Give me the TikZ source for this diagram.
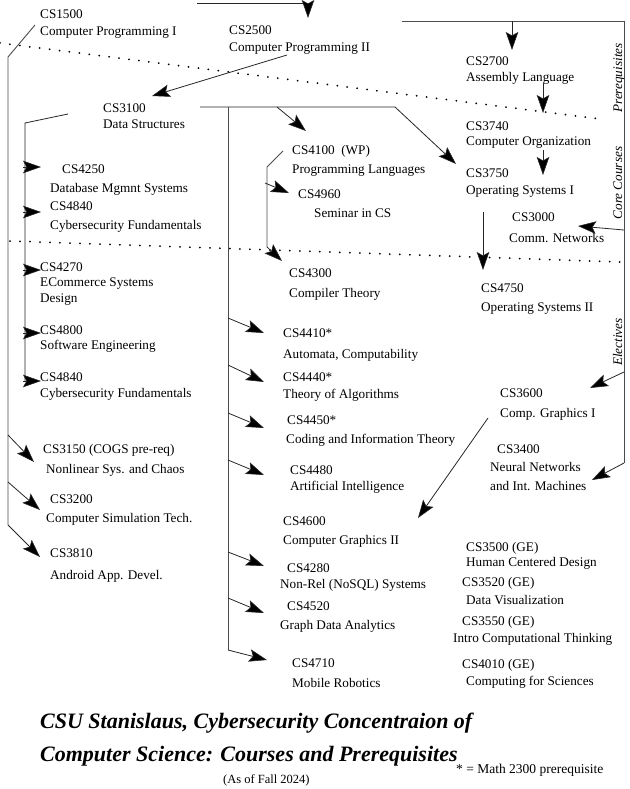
\documentclass[tikz,border=0pt]{standalone}
\usepackage{fontspec}
\setmainfont{Liberation Serif}
\usetikzlibrary{arrows.meta}
\newcommand\cBlock[2]{\vtop{\baselineskip=#1pt\lineskiplimit=-40pt\lineskip=0pt\relax #2}}
\newcommand\cLine[2]{\hbox{\kern#1pt\relax #2}}
\begin{document}
\begin{tikzpicture}[x=1pt,y=-1pt,
  crs/.style={anchor=base west, inner sep=0pt, font=\fontsize{13.2pt}{16pt}\selectfont},
  ln/.style={line width=0.8pt, black!85},
  vln/.style={line width=0.9pt, black!70},
  arr/.style={ln, -{Stealth[length=18pt,width=12.5pt,inset=3.5pt,fill=black,line width=0.6pt]}},
  dots/.style={line width=2pt, dash pattern=on 0pt off 10pt, line cap=round},
  side/.style={anchor=base, rotate=90, inner sep=0pt, font=\fontsize{13.2pt}{16pt}\selectfont\itshape}]
\useasboundingbox (0,0) rectangle (629,789);

% ---------- course nodes ----------
\node[crs] (n1500) at (40,19) {\cBlock{16.5}{\cLine{0}{CS1500}\cLine{0}{Computer Programming I}}};
\node[crs] (n2500) at (229,35) {\cBlock{16.5}{\cLine{0}{CS2500}\cLine{0}{Computer Programming II}}};
\node[crs] (n2700) at (466,66) {\cBlock{16}{\cLine{0}{CS2700}\cLine{0}{Assembly Language}}};
\node[crs] (n3740) at (466,130) {\cBlock{16}{\cLine{0}{CS3740}\cLine{0}{Computer Organization}}};
\node[crs] (n3750) at (466,177) {\cBlock{17}{\cLine{0}{CS3750}\cLine{0}{Operating Systems I}}};
\node[crs] (n3100) at (103,113) {\cBlock{16}{\cLine{0}{CS3100}\cLine{0}{Data Structures}}};
\node[crs] (n4100) at (292,154) {\cBlock{19}{\cLine{0}{CS4100\ \ (WP)}\cLine{0}{Programming Languages}}};
\node[crs] (n4960) at (298,198) {\cBlock{19}{\cLine{0}{CS4960}\cLine{16}{Seminar in CS}}};
\node[crs] (n4300) at (289,277) {\cBlock{20}{\cLine{0}{CS4300}\cLine{0}{Compiler Theory}}};
\node[crs] (n4250) at (50,173) {\cBlock{19}{\cLine{12}{CS4250}\cLine{0}{Database Mgmnt Systems}}};
\node[crs] (n4840a) at (50,210) {\cBlock{19}{\cLine{0}{CS4840}\cLine{0}{Cybersecurity Fundamentals}}};
\node[crs] (n3000) at (509,221) {\cBlock{21}{\cLine{3}{CS3000}\cLine{0}{Comm. Networks}}};
\node[crs] (n4750) at (481,292) {\cBlock{19}{\cLine{0}{CS4750}\cLine{0}{Operating Systems II}}};
\node[crs] (n4270) at (40,271) {\cBlock{15.5}{\cLine{0}{CS4270}\cLine{0}{ECommerce Systems}\cLine{0}{Design}}};
\node[crs] (n4800) at (40,334) {\cBlock{15.5}{\cLine{0}{CS4800}\cLine{0}{Software Engineering}}};
\node[crs] (n4840b) at (40,381) {\cBlock{16}{\cLine{0}{CS4840}\cLine{0}{Cybersecurity Fundamentals}}};
\node[crs] (n4410) at (283,337) {\cBlock{21}{\cLine{0}{CS4410*}\cLine{0}{Automata, Computability}}};
\node[crs] (n4440) at (283,381) {\cBlock{17}{\cLine{0}{CS4440*}\cLine{0}{Theory of Algorithms}}};
\node[crs] (n4450) at (286,424) {\cBlock{19}{\cLine{1}{CS4450*}\cLine{0}{Coding and Information Theory}}};
\node[crs] (n4480) at (290,474) {\cBlock{16}{\cLine{0}{CS4480}\cLine{0}{Artificial Intelligence}}};
\node[crs] (n4600) at (283,525) {\cBlock{19}{\cLine{0}{CS4600}\cLine{0}{Computer Graphics II}}};
\node[crs] (n4280) at (280,572) {\cBlock{16}{\cLine{7}{CS4280}\cLine{0}{Non-Rel (NoSQL) Systems}}};
\node[crs] (n4520) at (280,610) {\cBlock{19}{\cLine{7}{CS4520}\cLine{0}{Graph Data Analytics}}};
\node[crs] (n4710) at (292,667) {\cBlock{20}{\cLine{0}{CS4710}\cLine{0}{Mobile Robotics}}};
\node[crs] (n3150) at (43,453) {\cBlock{20}{\cLine{0}{CS3150 (COGS pre-req)}\cLine{3}{Nonlinear Sys. and Chaos}}};
\node[crs] (n3200) at (46,503) {\cBlock{19}{\cLine{4}{CS3200}\cLine{0}{Computer Simulation Tech.}}};
\node[crs] (n3810) at (50,557) {\cBlock{22}{\cLine{0}{CS3810}\cLine{0}{Android App. Devel.}}};
\node[crs] (n3600) at (500,397) {\cBlock{20}{\cLine{0}{CS3600}\cLine{0}{Comp. Graphics I}}};
\node[crs] (n3400) at (490,453) {\cBlock{18.5}{\cLine{7}{CS3400}\cLine{0}{Neural Networks}\cLine{0}{and Int. Machines}}};
\node[crs] (n3500) at (466,551) {\cBlock{15.5}{\cLine{0}{CS3500 (GE)}\cLine{0}{Human Centered Design}}};
\node[crs] (n3520) at (462,586) {\cBlock{18}{\cLine{0}{CS3520 (GE)}\cLine{4}{Data Visualization}}};
\node[crs] (n3550) at (453,625) {\cBlock{17}{\cLine{9}{CS3550 (GE)}\cLine{0}{Intro Computational Thinking}}};
\node[crs] (n4010) at (462,668) {\cBlock{17}{\cLine{0}{CS4010 (GE)}\cLine{4}{Computing for Sciences}}};

% ---------- side labels ----------
\node[side] (lpre) at (622,78) {Prerequisites};
\node[side] (lcore) at (622,183) {Core Courses};
\node[side] (lelec) at (622,342) {Electives};

% ---------- title and notes ----------
\node[anchor=base west, inner sep=0pt, font=\fontsize{22pt}{33pt}\selectfont\bfseries\itshape] (title) at (40,728)
  {\cBlock{33}{\cLine{0}{CSU Stanislaus, Cybersecurity Concentraion of}\cLine{0}{Computer Science: Courses and Prerequisites}}};
\node[anchor=base west, inner sep=0pt, font=\fontsize{12.5pt}{15pt}\selectfont] (asof) at (223,783) {(As of Fall 2024)};
\node[anchor=base west, inner sep=0pt, font=\fontsize{13.5pt}{16pt}\selectfont] (note) at (456,773) {* = Math 2300 prerequisite};

% ---------- dotted separators ----------
\coordinate (d1a) at (0,43);   \coordinate (d1b) at (600,119);
\coordinate (d2a) at (10,241); \coordinate (d2b) at (620,262);
\draw[dots] (d1a) -- (d1b);
\draw[dots] (d2a) -- (d2b);

% ---------- connector points ----------
\coordinate (tA0) at (197,3);   \coordinate (tA1) at (308,18);
\coordinate (p1500a) at (35,25); \coordinate (p1500b) at (8,57); \coordinate (p1500c) at (8,525);
\coordinate (b3150) at (8,435);  \coordinate (t3150) at (34,462);
\coordinate (b3200) at (8,482);  \coordinate (t3200) at (40,510);
\coordinate (t3810) at (40,557);
\coordinate (p2500) at (287,55); \coordinate (t3100) at (152,96);
\coordinate (p3100a) at (68,114); \coordinate (p3100b) at (25,123); \coordinate (p3100c) at (25,381);
\coordinate (b4250) at (23,167); \coordinate (t4250) at (41,167);
\coordinate (b4840a) at (23,212); \coordinate (t4840a) at (41,212);
\coordinate (b4270) at (23,270); \coordinate (t4270) at (41,270);
\coordinate (b4800) at (23,333); \coordinate (t4800) at (41,333);
\coordinate (b4840b) at (23,381); \coordinate (t4840b) at (41,381);
\coordinate (p3100r) at (200,107); \coordinate (p3100k) at (395,107); \coordinate (t3750) at (456,164);
\coordinate (b4100) at (277,107); \coordinate (t4100) at (306,131);
\coordinate (v228a) at (228,107); \coordinate (v228b) at (228,650);
\coordinate (b4410) at (228,318); \coordinate (t4410) at (264,333);
\coordinate (b4440) at (228,365); \coordinate (t4440) at (264,382);
\coordinate (b4450) at (228,413); \coordinate (t4450) at (264,428);
\coordinate (b4480) at (228,460); \coordinate (t4480) at (264,475);
\coordinate (b4280) at (228,552); \coordinate (t4280) at (264,566);
\coordinate (b4520) at (228,598); \coordinate (t4520) at (264,613);
\coordinate (t4710) at (267,660);
\coordinate (p4100a) at (283,151); \coordinate (p4100b) at (267,167); \coordinate (p4100c) at (267,247); \coordinate (t4300) at (282,261);
\coordinate (b4960) at (265,183); \coordinate (t4960) at (289,193);
\coordinate (b3740) at (543,83);  \coordinate (t3740) at (543,113);
\coordinate (b3750) at (543,150); \coordinate (t3750b) at (543,175);
\coordinate (b4750) at (483,212); \coordinate (t4750) at (483,270);
\coordinate (rTa) at (402,21); \coordinate (rTb) at (624,21); \coordinate (rTc) at (624,463);
\coordinate (b2700) at (512,21); \coordinate (t2700) at (512,50);
\coordinate (b3000) at (624,230); \coordinate (t3000) at (578,226);
\coordinate (b3600) at (624,372); \coordinate (t3600) at (590,388);
\coordinate (t3400) at (592,480);
\coordinate (b4600) at (488,418); \coordinate (t4600) at (418,518);

% ---------- connectors ----------
\draw[arr] (tA0) -| (tA1);
% CS1500 group
\draw[vln] (p1500a) -- (p1500b) -- (p1500c);
\draw[arr] (b3150) -- (t3150);
\draw[arr] (b3200) -- (t3200);
\draw[arr] (p1500c) -- (t3810);
% CS2500 -> CS3100
\draw[arr] (p2500) -- (t3100);
% CS3100 left group
\draw[ln] (p3100a) -- (p3100b) -- (p3100c);
\draw[arr] (b4250) -- (t4250);
\draw[arr] (b4840a) -- (t4840a);
\draw[arr] (b4270) -- (t4270);
\draw[arr] (b4800) -- (t4800);
\draw[arr] (b4840b) -- (t4840b);
% CS3100 right group
\draw[arr] (p3100r) -- (p3100k) -- (t3750);
\draw[arr] (b4100) -- (t4100);
\draw[vln] (v228a) -- (v228b);
\draw[arr] (b4410) -- (t4410);
\draw[arr] (b4440) -- (t4440);
\draw[arr] (b4450) -- (t4450);
\draw[arr] (b4480) -- (t4480);
\draw[arr] (b4280) -- (t4280);
\draw[arr] (b4520) -- (t4520);
\draw[arr] (v228b) -- (t4710);
% CS4100 group
\draw[vln] (p4100a) -- (p4100b) -- (p4100c);
\draw[arr] (p4100c) -- (t4300);
\draw[arr] (b4960) -- (t4960);
% core chain
\draw[arr] (b3740) -- (t3740);
\draw[arr] (b3750) -- (t3750b);
\draw[arr] (b4750) -- (t4750);
% right frame
\draw[vln] (rTa) -- (rTb) -- (rTc);
\draw[arr] (b2700) -- (t2700);
\draw[arr] (b3000) -- (t3000);
\draw[arr] (b3600) -- (t3600);
\draw[arr] (rTc) -- (t3400);
\draw[arr] (b4600) -- (t4600);
\end{tikzpicture}
\end{document}
